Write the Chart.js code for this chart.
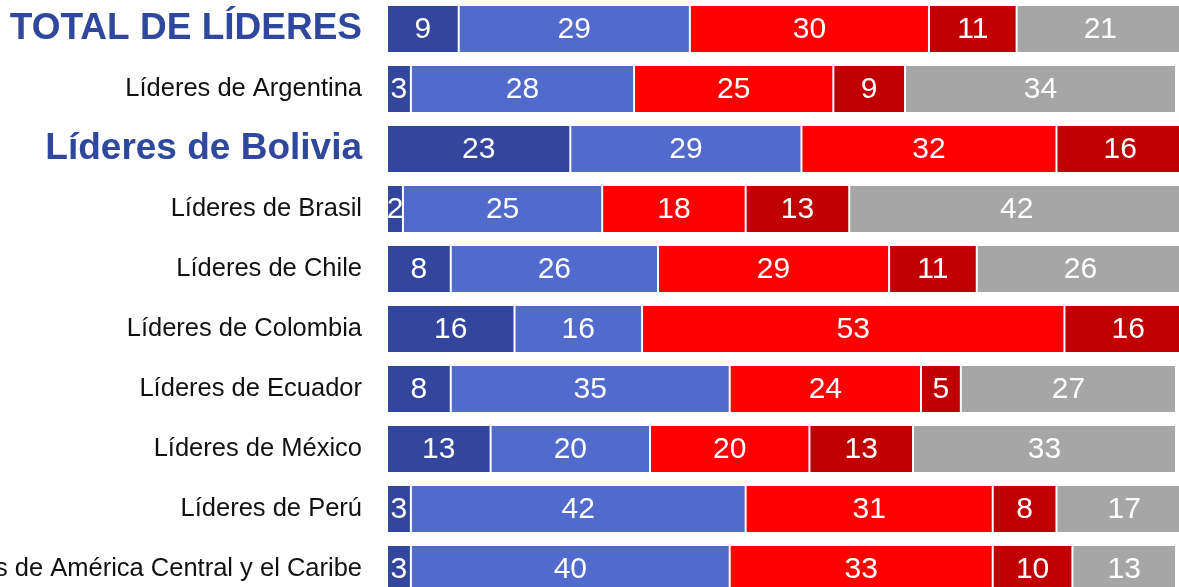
<!DOCTYPE html>
<html>
<head>
<meta charset="utf-8">
<script src="https://cdn.jsdelivr.net/npm/chart.js@4/dist/chart.umd.min.js"></script>
<style>
  html, body { margin: 0; padding: 0; background: #fff; overflow: hidden; }
  #wrap { position: absolute; left: 0; top: -1px; }
</style>
</head>
<body>
<div id="wrap"><canvas id="lideresChart" width="1184" height="600"></canvas></div>
<script>
// Categories (rows)
const categories = [
    "TOTAL DE LÍDERES",
    "Líderes de Argentina",
    "Líderes de Bolivia",
    "Líderes de Brasil",
    "Líderes de Chile",
    "Líderes de Colombia",
    "Líderes de Ecuador",
    "Líderes de México",
    "Líderes de Perú",
    "Líderes de América Central y el Caribe"
];

// Series values, one array per segment colour
const serieAzulOscuro = [9, 3, 23, 2, 8, 16, 8, 13, 3, 3];
const serieAzul       = [29, 28, 29, 25, 26, 16, 35, 20, 42, 40];
const serieRojo       = [30, 25, 32, 18, 29, 53, 24, 20, 31, 33];
const serieRojoOscuro = [11, 9, 16, 13, 11, 16, 5, 13, 8, 10];
const serieGris       = [21, 34, null, 42, 26, null, 27, 33, 17, 13];

// Rows highlighted in bold blue
const highlighted = [0, 2];

const FONT = "'Liberation Sans', Arial, Helvetica, sans-serif";

// Draw white value labels centred in each segment
const segmentLabels = {
    id: "segmentLabels",
    afterDatasetsDraw(chart) {
        const ctx = chart.ctx;
        chart.data.datasets.forEach(function (ds, i) {
            const meta = chart.getDatasetMeta(i);
            meta.data.forEach(function (bar, j) {
                const v = ds.data[j];
                if (v === null || v === 0) return;
                const left = Math.min(bar.x, bar.base);
                const right = Math.max(bar.x, bar.base);
                const top = bar.y - bar.height / 2;
                ctx.save();
                ctx.beginPath();
                ctx.rect(left, top, right - left, bar.height);
                ctx.clip();
                ctx.fillStyle = "#ffffff";
                ctx.font = "30px " + FONT;
                ctx.textAlign = "center";
                ctx.textBaseline = "middle";
                ctx.fillText(String(v), (left + right) / 2, bar.y + 1);
                ctx.restore();
            });
        });
    }
};

function makeSet(label, data, color) {
    return {
        label: label,
        data: data,
        backgroundColor: color,
        borderColor: "#ffffff",
        borderWidth: 1,
        borderSkipped: false,
        barPercentage: 1,
        categoryPercentage: 0.8
    };
}

new Chart(document.getElementById("lideresChart"), {
    type: "bar",
    data: {
        labels: categories,
        datasets: [
            makeSet("a", serieAzulOscuro, "#31469c"),
            makeSet("b", serieAzul, "#506bcb"),
            makeSet("c", serieRojo, "#ff0000"),
            makeSet("d", serieRojoOscuro, "#c00000"),
            makeSet("e", serieGris, "#a6a6a6")
        ]
    },
    options: {
        indexAxis: "y",
        responsive: false,
        animation: false,
        layout: { padding: 0 },
        plugins: {
            legend: { display: false },
            tooltip: { enabled: false }
        },
        scales: {
            x: {
                stacked: true,
                display: false,
                min: 0,
                max: 100
            },
            y: {
                stacked: true,
                grid: { display: false, drawTicks: false },
                border: { display: false },
                afterFit: function (scale) {
                    scale.width = 387;
                    scale.paddingTop = 0;
                    scale.paddingBottom = 0;
                },
                ticks: {
                    autoSkip: false,
                    padding: 25,
                    color: function (c) {
                        return highlighted.includes(c.index) ? "#2f479d" : "#111111";
                    },
                    font: function (c) {
                        if (highlighted.includes(c.index)) {
                            return { family: FONT, size: 37, weight: "bold" };
                        }
                        return { family: FONT, size: 25.5, weight: "normal" };
                    }
                }
            }
        }
    },
    plugins: [segmentLabels]
});
</script>
</body>
</html>
